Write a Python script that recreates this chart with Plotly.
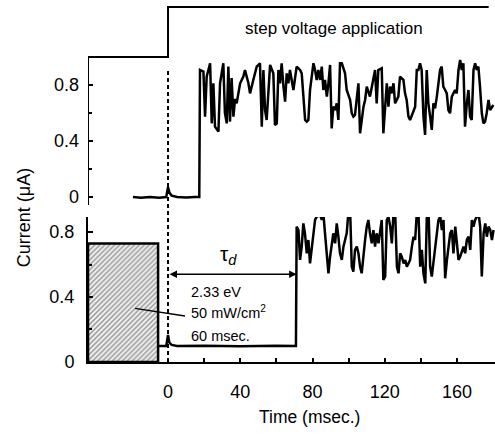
import plotly.graph_objects as go

# ---------------- data ----------------
# top panel: current under step voltage only (µA)
t_top = [-19.4, -15, -10, -5, -1, 0, 0.8, 2, 5, 10, 15, 17.3,
         17.7, 19.6, 20.5, 21.4, 23.3, 24.2, 25.1, 26.0, 27.9, 28.8, 30.6, 31.5, 32.5, 33.4,
         34.3, 35.2, 36.2, 37.1, 38.0, 39.9, 41.7, 42.6, 44.5, 45.4, 47.2, 49.1, 50.9, 51.9,
         52.8, 53.7, 54.6, 56.5, 58.3, 59.2, 60.2, 61.1, 62.0, 62.9, 63.9, 64.8, 65.7, 66.6,
         67.5, 69.4, 71.2, 73.1, 74.0, 74.9, 75.9, 76.8, 77.7, 78.6, 80.5, 81.4, 82.3, 83.2,
         84.2, 85.1, 86.0, 86.9, 87.9, 88.8, 89.7, 90.6, 91.5, 92.5, 93.4, 94.3, 95.2, 96.2,
         98.0, 98.9, 100.8, 101.7, 102.6, 103.5, 105.4, 106.3, 107.2, 108.2, 109.1, 110.0,
         111.8, 112.8, 113.7, 114.6, 115.5, 116.4, 118.3, 119.2, 121.1, 122.0, 122.9, 123.8,
         124.8, 125.7, 127.5, 128.4, 130.3, 131.2, 132.1, 133.1, 134.0, 135.8, 136.8, 137.7,
         138.6, 139.5, 140.4, 141.4, 142.3, 143.2, 144.1, 145.1, 146.0, 146.9, 147.8, 148.8,
         150.6, 151.5, 152.4, 153.4, 154.3, 155.2, 156.1, 157.1, 158.9, 159.8, 160.8, 161.7,
         162.6, 163.5, 164.4, 165.4, 166.3, 167.2, 168.1, 169.1, 170.0, 170.9, 171.8, 172.7,
         173.7, 174.6, 175.5, 176.4, 177.4, 178.3, 179.2, 180.1]
i_top = [0.0, -0.005, 0.0, -0.005, 0.0, 0.07, 0.03, 0.01, 0.0, -0.003, 0.0, 0.0,
         0.907, 0.895, 0.574, 0.86, 0.955, 0.526, 0.812, 0.502, 0.467, 0.812, 0.955, 0.6, 0.526, 0.931,
         0.538, 0.85, 0.574, 0.7, 0.669, 0.812, 0.86, 0.907, 0.812, 0.74, 0.836, 0.931, 0.955, 0.502,
         0.907, 0.621, 0.55, 0.943, 0.883, 0.514, 0.526, 0.907, 0.812, 0.955, 0.788, 0.681, 0.883, 0.812,
         0.907, 0.764, 0.931, 0.907, 0.883, 0.74, 0.55, 0.538, 0.55, 0.764, 0.955, 0.907, 0.836, 0.907,
         0.836, 0.931, 0.764, 0.836, 0.717, 0.812, 0.943, 0.49, 0.645, 0.621, 0.669, 0.55, 0.955, 0.955,
         0.883, 0.764, 0.693, 0.598, 0.574, 0.586, 0.812, 0.455, 0.55, 0.645, 0.693, 0.788,
         0.717, 0.788, 0.836, 0.907, 0.669, 0.907, 0.919, 0.455, 0.812, 0.645, 0.788, 0.74,
         0.812, 0.669, 0.717, 0.86, 0.836, 0.74, 0.693, 0.574, 0.55, 0.621, 0.645, 0.907,
         0.907, 0.955, 0.907, 0.574, 0.443, 0.907, 0.669, 0.574, 0.479, 0.669, 0.633, 0.717,
         0.907, 0.931, 0.788, 0.764, 0.74, 0.621, 0.598, 0.717, 0.764, 0.74, 0.907, 0.979,
         0.907, 0.955, 0.502, 0.669, 0.764, 0.574, 0.55, 0.907, 0.955, 0.907, 0.931, 0.788,
         0.598, 0.526, 0.538, 0.598, 0.693, 0.621, 0.645, 0.657]

# bottom panel: current with light pre-illumination (µA)
t_bot = [-5.5, -1, 0, 0.7, 2, 5, 20, 40, 60, 70.8,
         71.2, 72.2, 73.1, 74.0, 74.9, 75.8, 76.8, 77.7, 78.6, 79.5, 80.5, 81.4, 82.3, 84.2,
         85.1, 86.0, 86.9, 87.8, 88.8, 89.7, 90.6, 91.5, 92.5, 93.4, 94.3, 95.2, 96.2, 97.1,
         98.0, 98.9, 99.8, 100.8, 101.7, 102.6, 103.5, 104.5, 105.4, 106.3, 107.2, 108.2,
         109.1, 110.0, 110.9, 111.8, 112.8, 113.7, 114.6, 115.5, 116.5, 118.3, 119.2, 120.2,
         121.1, 122.0, 123.0, 123.9, 124.8, 125.7, 126.7, 127.6, 128.5, 129.4, 130.4, 131.3,
         132.2, 133.1, 134.0, 135.0, 135.9, 136.8, 137.7, 138.7, 139.6, 140.5, 141.4, 142.4,
         143.3, 144.2, 145.1, 146.0, 147.0, 147.9, 148.8, 149.7, 150.7, 151.6, 152.5, 153.4,
         154.4, 155.3, 156.2, 157.1, 158.0, 159.0, 159.9, 160.8, 161.7, 162.7, 163.6, 164.5,
         165.4, 166.4, 167.3, 168.2, 169.1, 170.0, 171.0, 171.9, 172.8, 173.7, 174.7, 175.6,
         176.5, 177.4, 178.4, 179.3, 180.2]
i_bot = [0.098, 0.098, 0.166, 0.12, 0.105, 0.098, 0.1, 0.097, 0.1, 0.098,
         0.833, 0.812, 0.628, 0.71, 0.853, 0.792, 0.669, 0.751, 0.607, 0.69, 0.812, 0.874, 0.894, 0.905,
         0.874, 0.915, 0.792, 0.69, 0.546, 0.648, 0.71, 0.792, 0.73, 0.853, 0.771, 0.669, 0.628, 0.71,
         0.751, 0.792, 0.915, 0.935, 0.587, 0.556, 0.69, 0.71, 0.669, 0.587, 0.546, 0.669,
         0.751, 0.833, 0.874, 0.792, 0.73, 0.812, 0.71, 0.792, 0.73, 0.874, 0.505, 0.526,
         0.874, 0.894, 0.833, 0.73, 0.915, 0.935, 0.587, 0.546, 0.669, 0.648, 0.607, 0.628,
         0.587, 0.607, 0.628, 0.71, 0.771, 0.751, 0.915, 0.894, 0.587, 0.69, 0.546, 0.484,
         0.915, 0.935, 0.587, 0.526, 0.628, 0.71, 0.792, 0.874, 0.894, 0.812, 0.874, 0.515,
         0.628, 0.73, 0.792, 0.812, 0.669, 0.833, 0.71, 0.628, 0.648, 0.69, 0.71, 0.669,
         0.751, 0.771, 0.69, 0.874, 0.833, 0.874, 0.894, 0.915, 0.833, 0.526, 0.792, 0.853,
         0.771, 0.833, 0.812, 0.751, 0.812]

# step voltage trace (schematic level, top panel units)
t_step = [-44.3, 0, 0, 177.5]
v_step = [1.0, 1.0, 1.357, 1.357]

# light pulse (hatched box) in bottom panel
pulse_t = [-44.3, -5.5]
pulse_h = 0.73
delay_t = [0, 71.2]
delay_y = 0.54

x_major = [0, 40, 80, 120, 160]
x_minor = [20, 60, 100, 140]
y_major = [0, 0.4, 0.8]
y_minor = [0.2, 0.6]

X_RANGE = [-44.3, 181.0]
FONT = "Arial, Liberation Sans, sans-serif"

fig = go.Figure()

# hatched light pulse box
fig.add_trace(go.Scatter(
    x=[pulse_t[0], pulse_t[1], pulse_t[1], pulse_t[0], pulse_t[0]],
    y=[0, 0, pulse_h, pulse_h, 0],
    yaxis="y2", mode="lines", fill="toself",
    fillcolor="white",
    fillpattern=dict(shape="/", fgcolor="#333333", bgcolor="#f2f2f2", size=3.5, solidity=0.4),
    line=dict(color="black", width=2.5), showlegend=False, hoverinfo="skip"))

fig.add_trace(go.Scatter(x=t_top, y=i_top, mode="lines", yaxis="y",
                         line=dict(color="black", width=2.5), showlegend=False))
fig.add_trace(go.Scatter(x=t_bot, y=i_bot, mode="lines", yaxis="y2",
                         line=dict(color="black", width=2.5), showlegend=False))
fig.add_trace(go.Scatter(x=t_step, y=v_step, mode="lines", yaxis="y",
                         line=dict(color="black", width=2), showlegend=False,
                         cliponaxis=False))

# leader line from box to text
fig.add_trace(go.Scatter(x=[-18.3, 9.4], y=[0.33, 0.283], mode="lines", yaxis="y2",
                         line=dict(color="black", width=1.5), showlegend=False))

shapes = [
    # top panel left spine
    dict(type="line", xref="x", yref="y", x0=X_RANGE[0], x1=X_RANGE[0], y0=-0.057, y1=1.0,
         line=dict(color="black", width=2)),
    # dashed line at t=0
    dict(type="line", xref="x", yref="paper", x0=0, x1=0, y0=0, y1=0.818,
         line=dict(color="black", width=2, dash="4px,3px")),
]

annotations = [
    dict(x=delay_t[1], y=delay_y, ax=delay_t[0], ay=delay_y, xref="x", yref="y2",
         axref="x", ayref="y2", text="", showarrow=True, arrowhead=2, startarrowhead=2,
         arrowside="end+start", arrowwidth=1.5, arrowsize=1, startarrowsize=1,
         arrowcolor="black"),
    dict(x=33.2, y=0.66, xref="x", yref="y2", text="τ<sub><i>d</i></sub>", showarrow=False,
         xanchor="center", yanchor="middle",
         font=dict(size=21, family=FONT, color="black")),
    dict(x=11.6, y=0.433, xref="x", yref="y2", text="2.33 eV", showarrow=False,
         xanchor="left", yanchor="middle", font=dict(size=14.5, family=FONT, color="black")),
    dict(x=11.6, y=0.31, xref="x", yref="y2", text="50 mW/cm<sup>2</sup>", showarrow=False,
         xanchor="left", yanchor="middle", font=dict(size=14.5, family=FONT, color="black")),
    dict(x=11.6, y=0.16, xref="x", yref="y2", text="60 msec.", showarrow=False,
         xanchor="left", yanchor="middle", font=dict(size=14.5, family=FONT, color="black")),
    dict(x=0.381, y=0.933, xref="paper", yref="paper", text="step voltage application",
         showarrow=False, xanchor="left", yanchor="middle",
         font=dict(size=17, family=FONT, color="black")),
    dict(x=-0.157, y=0.403, xref="paper", yref="paper", text="Current (μA)", textangle=-90,
         showarrow=False, xanchor="center", yanchor="middle",
         font=dict(size=18, family=FONT, color="black")),
    dict(x=0.545, y=-0.154, xref="paper", yref="paper", text="Time (msec.)",
         showarrow=False, xanchor="center", yanchor="middle",
         font=dict(size=17.5, family=FONT, color="black")),
]

minor_style = dict(ticks="inside", ticklen=4, tickwidth=2, tickcolor="black", showgrid=False)

fig.update_layout(
    width=495, height=434,
    margin=dict(l=88, r=0, t=5, b=72),
    paper_bgcolor="white", plot_bgcolor="white",
    font=dict(family=FONT, color="black", size=18),
    xaxis=dict(range=X_RANGE, anchor="y2", showline=True, linecolor="black", linewidth=2,
               showgrid=False, zeroline=False, ticks="inside", ticklen=4, tickwidth=2,
               tickcolor="black", tickmode="array", tickvals=x_major,
               minor=dict(tickmode="array", tickvals=x_minor, **minor_style),
               ticklabelstandoff=12, tickfont=dict(size=18)),
    yaxis=dict(domain=[0.4398, 1.0], range=[-0.057, 1.371], anchor="x", showline=False,
               showgrid=False, zeroline=False, ticks="inside", ticklen=5, tickwidth=2,
               tickcolor="black", tickmode="array", tickvals=y_major,
               ticktext=["0", "0.4", "0.8"],
               minor=dict(tickmode="array", tickvals=y_minor, **minor_style),
               ticklabelstandoff=8, tickfont=dict(size=18)),
    yaxis2=dict(domain=[0, 0.406], range=[0, 0.892], anchor="x", showline=True,
                linecolor="black", linewidth=2, showgrid=False, zeroline=False,
                ticks="inside", ticklen=5, tickwidth=2, tickcolor="black",
                tickmode="array", tickvals=y_major, ticktext=["0", "0.4", "0.8"],
                minor=dict(tickmode="array", tickvals=y_minor, **minor_style),
                ticklabelstandoff=8, tickfont=dict(size=18)),
    shapes=shapes,
    annotations=annotations,
)

fig.write_html("out.html")
